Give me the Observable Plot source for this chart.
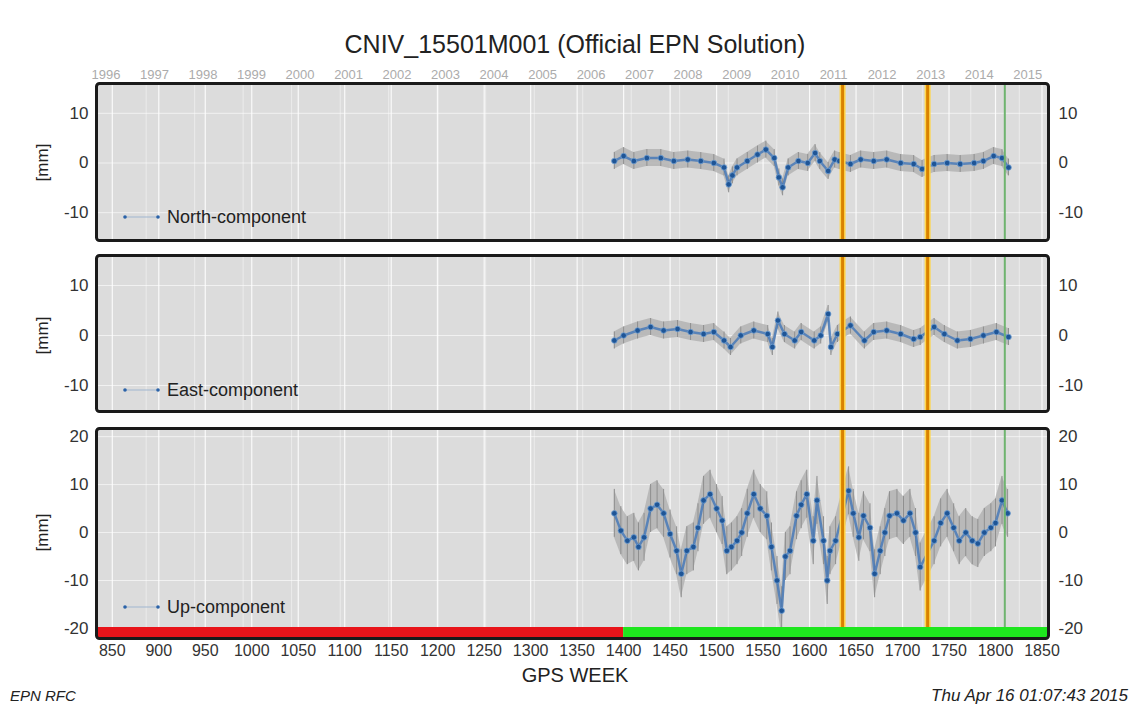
<!DOCTYPE html>
<html>
<head>
<meta charset="utf-8">
<script src="https://cdn.jsdelivr.net/npm/d3@7"></script>
<script src="https://cdn.jsdelivr.net/npm/@observablehq/plot@0.6"></script>
<style>
  html, body { margin: 0; padding: 0; background: #fff; }
  #root { position: relative; width: 1132px; height: 707px; font-family: "Liberation Sans", Arial, sans-serif; color: #222; }
  .abs { position: absolute; line-height: 1; }
  .title { left: 0; width: 1150px; top: 32px; text-align: center; font-size: 25px; color: #222; }
  .ylab { font-size: 17px; color: #222; transform: rotate(-90deg); transform-origin: center; }
  .legend { font-size: 18px; color: #222; display: flex; align-items: center; }
  .legend svg { margin-right: 5px; }
  .foot { font-style: italic; color: #222; }
</style>
</head>
<body>
<div id="root"></div>
<script>
// ---------------- DATA ----------------
const stationTitle = "CNIV_15501M001 (Official EPN Solution)";
const componentNames = ["North-component", "East-component", "Up-component"];
const xTicks = [850, 900, 950, 1000, 1050, 1100, 1150, 1200, 1250, 1300, 1350, 1400, 1450, 1500, 1550, 1600, 1650, 1700, 1750, 1800, 1850];
const yearLabels = [1996, 1997, 1998, 1999, 2000, 2001, 2002, 2003, 2004, 2005, 2006, 2007, 2008, 2009, 2010, 2011, 2012, 2013, 2014, 2015];
const weekDomain = [833, 1857];

const northWeeks = [1390, 1400, 1411, 1425, 1440, 1454, 1469, 1483, 1497, 1508, 1513, 1517, 1522, 1533, 1544, 1553, 1562, 1567, 1571, 1577, 1588, 1598, 1606, 1611, 1620, 1627, 1632, 1644, 1655, 1669, 1683, 1698, 1712, 1721, 1734, 1748, 1762, 1777, 1787, 1798, 1807, 1814];
const northValues = [0.4, 1.4, 0.4, 1.0, 1.0, 0.4, 0.7, 0.4, 0.0, -0.9, -4.3, -2.5, -0.9, 0.4, 1.7, 2.7, 1.0, -2.9, -4.9, -0.9, 0.4, 0.0, 2.0, 0.4, -1.6, 0.7, 0.4, -0.2, 0.7, 0.4, 0.7, 0.0, -0.2, -1.2, -0.2, 0.0, -0.2, 0.0, 0.4, 1.4, 1.0, -0.9];
const northSigma = 1.7;

const eastWeeks = [1390, 1400, 1415, 1429, 1443, 1458, 1472, 1486, 1497, 1508, 1515, 1526, 1540, 1555, 1560, 1566, 1573, 1584, 1591, 1605, 1612, 1620, 1623, 1630, 1644, 1659, 1669, 1683, 1698, 1712, 1719, 1734, 1745, 1759, 1773, 1787, 1801, 1814];
const eastValues = [-1.0, 0.0, 1.0, 1.7, 1.0, 1.3, 0.7, 0.3, 0.7, -1.0, -2.3, 0.0, 1.0, 0.3, -2.3, 3.0, 0.3, -1.0, 0.7, -1.0, 0.0, 4.3, -2.3, 0.3, 2.0, -1.0, 0.7, 1.0, 0.3, -0.7, -0.3, 1.7, 0.3, -1.0, -0.7, 0.0, 0.7, -0.3];
const eastSigma = 1.7;

const upWeeks = [1390, 1397, 1404, 1411, 1416, 1422, 1429, 1436, 1443, 1450, 1457, 1462, 1468, 1475, 1480, 1486, 1493, 1500, 1506, 1511, 1516, 1522, 1527, 1533, 1540, 1547, 1554, 1559, 1565, 1570, 1574, 1579, 1586, 1591, 1597, 1604, 1608, 1615, 1619, 1622, 1628, 1642, 1647, 1653, 1658, 1665, 1670, 1676, 1681, 1686, 1694, 1701, 1708, 1714, 1719, 1734, 1741, 1748, 1755, 1761, 1768, 1775, 1781, 1788, 1795, 1800, 1807, 1813];
const upValues = [4.0, 0.4, -1.7, -1.0, -3.0, -1.0, 5.0, 5.8, 4.0, -0.3, -3.8, -8.6, -3.8, -3.0, 1.0, 6.7, 8.0, 5.0, 2.5, -3.8, -3.0, -1.7, 0.0, 4.0, 8.0, 5.0, 3.5, -3.0, -10.0, -16.3, -5.0, -3.8, 3.5, 5.8, 8.0, -1.7, 6.7, -1.7, -10.0, -3.8, -1.7, 8.7, 4.0, -1.0, 3.5, 1.0, -8.6, -3.8, 0.0, 3.5, 4.0, 2.5, 4.0, 0.0, -7.2, -1.7, 2.0, 4.0, 1.0, -1.7, 0.0, -1.7, -2.3, 0.0, 1.0, 2.0, 6.7, 4.0];
const upSigma = 5;

const statusStarts = [833, 1400];
const statusEnds = [1400, 1857];
const statusColors = ["#e8141a", "#1ee61e"];
const equipmentChangeWeeks = [1635.5, 1727];
const lastWeekMarker = [1810];

const footLeft = "EPN RFC";
const footRight = "Thu Apr 16 01:07:43 2015";
const xAxisTitle = "GPS WEEK";
const yAxisTitle = "[mm]";

// ---------------- HELPERS ----------------
const gpsWeekOfDate = (t) => (t - Date.UTC(1980, 0, 6)) / (7 * 86400000);
const yearStartWeeks = yearLabels.map(y => gpsWeekOfDate(Date.UTC(y, 0, 1)));
const yearLabelWeeks = yearStartWeeks.map(w => w + 9);

const root = document.getElementById("root");
const FONT = '"Liberation Sans", Arial, sans-serif';
const W = 1132, ML = 96, MR = 84;

function addDiv(cls, text, style) {
  const d = document.createElement("div");
  d.className = "abs " + cls;
  d.textContent = text;
  Object.assign(d.style, style);
  root.appendChild(d);
  return d;
}

function makePanel({weeks, values, sigma, yDomain, yTicks, top, mTop, mBottom, frameH, isTop, isBottom}) {
  const rows = weeks.map((w, i) => ({w, v: values[i], lo: values[i] - sigma, hi: values[i] + sigma}));
  const marks = [
    Plot.frame({fill: "#dcdcdc", stroke: null}),
    Plot.ruleX(yearStartWeeks.filter(w => w > weekDomain[0] && w < weekDomain[1]), {stroke: "#fff", strokeOpacity: 0.45, strokeWidth: 1}),
    Plot.ruleX(xTicks.filter(w => w > weekDomain[0] && w < weekDomain[1]), {stroke: "#fff", strokeOpacity: 0.85, strokeWidth: 1.2}),
    Plot.ruleY(yTicks, {stroke: "#fff", strokeOpacity: 0.6, strokeWidth: 1}),
    Plot.areaY(rows, {x: "w", y1: "lo", y2: "hi", fill: "#b0b0b0", fillOpacity: 0.8, curve: "linear"}),
    Plot.ruleX(rows, {x: "w", y1: "lo", y2: "hi", stroke: "#8f8f8f", strokeWidth: 1}),
    Plot.line(rows, {x: "w", y: "v", stroke: "#3a72b8", strokeWidth: 2.5, strokeOpacity: 0.75}),
    Plot.dot(rows, {x: "w", y: "v", r: 2.8, fill: "#1f5596", stroke: "#6f9fd4", strokeWidth: 0.8}),
    Plot.ruleX(equipmentChangeWeeks, {stroke: "#ffd64a", strokeWidth: 6}),
    Plot.ruleX(equipmentChangeWeeks, {stroke: "#d98200", strokeWidth: 3}),
    Plot.ruleX(lastWeekMarker, {stroke: "#6fb46f", strokeWidth: 2})
  ];
  if (isBottom) {
    marks.push(Plot.rectX(statusStarts.map((s, i) => ({s, e: statusEnds[i], c: statusColors[i]})), {
      x1: "s", x2: "e", fill: "c", insetTop: frameH - 11
    }));
  }
  marks.push(Plot.frame({stroke: "#1a1a1a", strokeWidth: 3, rx: 3}));
  marks.push(Plot.axisY({anchor: "left", ticks: yTicks, tickSize: 0, tickPadding: 8, fontSize: 17, label: null, tickFormat: d => String(d)}));
  marks.push(Plot.axisY({anchor: "right", ticks: yTicks, tickSize: 0, tickPadding: 10, fontSize: 17, label: null, tickFormat: d => String(d)}));
  if (isTop) {
    marks.push(Plot.axisX({anchor: "top", ticks: yearLabelWeeks, tickFormat: (d, i) => String(yearLabels[i]), tickSize: 0, tickPadding: 5, fontSize: 13, fill: "#ababab", label: null}));
  }
  if (isBottom) {
    marks.push(Plot.axisX({anchor: "bottom", ticks: xTicks, tickSize: 0, tickPadding: 6, fontSize: 16, label: null, tickFormat: d => String(d)}));
  }
  const svg = Plot.plot({
    width: W,
    height: mTop + frameH + mBottom,
    marginLeft: ML, marginRight: MR, marginTop: mTop, marginBottom: mBottom,
    style: {fontFamily: FONT, color: "#333", background: "transparent", overflow: "visible"},
    x: {domain: weekDomain, axis: null},
    y: {domain: yDomain, axis: null},
    color: {type: "identity"},
    marks
  });
  svg.style.position = "absolute";
  svg.style.left = "0px";
  svg.style.top = top + "px";
  root.appendChild(svg);
}

// ---------------- BUILD ----------------
addDiv("title", stationTitle, {});

makePanel({weeks: northWeeks, values: northValues, sigma: northSigma, yDomain: [-15.6, 16], yTicks: [-10, 0, 10],
  top: 50, mTop: 33, mBottom: 5, frameH: 157, isTop: true});
makePanel({weeks: eastWeeks, values: eastValues, sigma: eastSigma, yDomain: [-15.2, 16], yTicks: [-10, 0, 10],
  top: 250, mTop: 5, mBottom: 5, frameH: 156});
makePanel({weeks: upWeeks, values: upValues, sigma: upSigma, yDomain: [-22.1, 21.7], yTicks: [-20, -10, 0, 10, 20],
  top: 423, mTop: 5, mBottom: 45, frameH: 210, isBottom: true});

// y-axis titles
[162, 335, 532].forEach(cy => {
  addDiv("ylab", yAxisTitle, {left: (42 - 25) + "px", top: (cy - 8) + "px", width: "50px", textAlign: "center"});
});

// in-panel legends
const legendY = [217, 390, 607];
legendY.forEach((ly, i) => {
  const d = document.createElement("div");
  d.className = "abs legend";
  d.style.left = "120px";
  d.style.top = (ly - 10) + "px";
  d.style.height = "20px";
  d.innerHTML = '<svg width="42" height="10"><line x1="5" y1="5" x2="38" y2="5" stroke="#9fb6cf" stroke-width="1.2"/>' +
    '<circle cx="5" cy="5" r="1.8" fill="#2a62a8"/><circle cx="38" cy="5" r="1.8" fill="#2a62a8"/></svg>';
  const s = document.createElement("span");
  s.textContent = componentNames[i];
  d.appendChild(s);
  root.appendChild(d);
});

addDiv("", xAxisTitle, {left: "0px", width: "1150px", top: "665px", textAlign: "center", fontSize: "20px", color: "#222"});
addDiv("foot", footLeft, {left: "10px", top: "688px", fontSize: "15px"});
addDiv("foot", footRight, {right: "4px", top: "687px", fontSize: "17px"});
</script>
</body>
</html>
